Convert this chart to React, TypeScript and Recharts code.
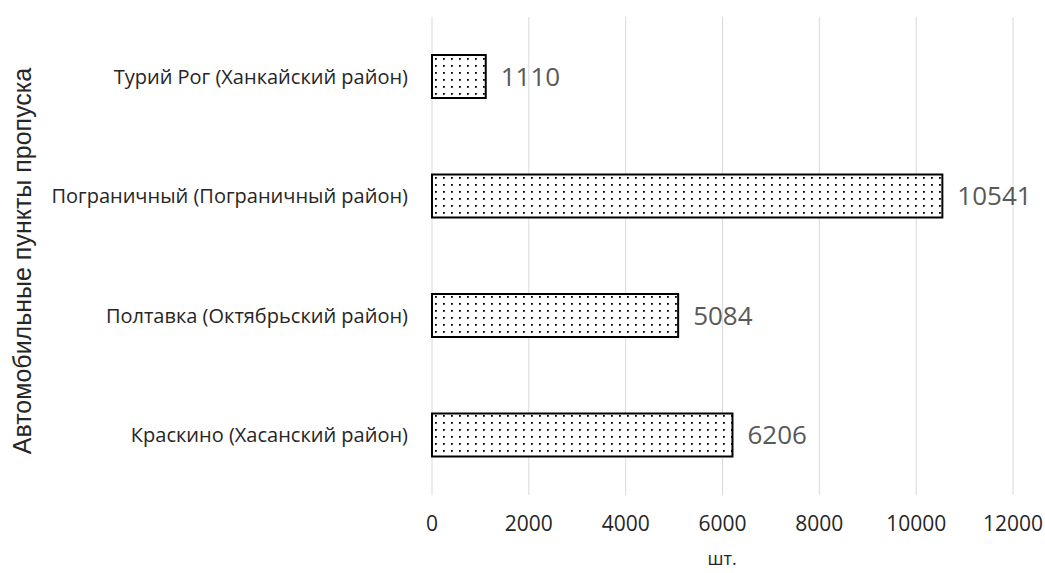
import { Bar, BarChart, CartesianGrid, LabelList, XAxis, YAxis } from 'recharts';

const checkpoints = [
  'Турий Рог (Ханкайский район)',
  'Пограничный (Пограничный район)',
  'Полтавка (Октябрьский район)',
  'Краскино (Хасанский район)',
];
const vehicles = [1110, 10541, 5084, 6206];
const xTicks = [0, 2000, 4000, 6000, 8000, 10000, 12000];

const data = checkpoints.map((name, i) => ({ name, value: vehicles[i] }));

const FONT = "'Open Sans', Lato, sans-serif";

const YTitle = ({ viewBox }: any) => {
  const cy = viewBox.y + viewBox.height / 2 + 5;
  return (
    <text
      x={22}
      y={cy}
      transform={`rotate(-90, 22, ${cy})`}
      textAnchor="middle"
      dominantBaseline="central"
      fontFamily="'Liberation Sans', Arial, sans-serif"
      fontSize={25}
      fill="#262626"
    >
      Автомобильные пункты пропуска
    </text>
  );
};

const XTitle = () => (
  <text
    x={722}
    y={558}
    textAnchor="middle"
    dominantBaseline="central"
    fontFamily={FONT}
    fontSize={18}
    fill="#262626"
  >
    шт.
  </text>
);

export default function App() {
  return (
    <div style={{ position: 'fixed', left: 0, top: 0, background: '#fff' }}>
      <BarChart
        width={1045}
        height={573}
        data={data}
        layout="vertical"
        margin={{ top: 17, right: 32, bottom: 48, left: 0 }}
      >
        <defs>
          <pattern id="dots" width={8} height={7} patternUnits="userSpaceOnUse">
            <rect width={8} height={7} fill="#fff" />
            <rect x={3} y={2} width={1.8} height={1.8} fill="#000" />
          </pattern>
        </defs>
        <CartesianGrid horizontal={false} stroke="#d9d9d9" />
        <XAxis
          type="number"
          domain={[0, 12000]}
          ticks={xTicks}
          axisLine={false}
          tickLine={false}
          tickMargin={15}
          tick={{ fontFamily: FONT, fontSize: 21, fill: '#262626' }}
          label={<XTitle />}
        />
        <YAxis
          type="category"
          dataKey="name"
          width={432}
          axisLine={false}
          tickLine={false}
          tickMargin={18}
          tick={{ fontFamily: FONT, fontSize: 20, fill: '#262626' }}
          label={<YTitle />}
        />
        <Bar
          dataKey="value"
          barSize={43}
          fill="url(#dots)"
          stroke="#000"
          strokeWidth={2}
          isAnimationActive={false}
        >
          <LabelList
            dataKey="value"
            position="right"
            offset={15}
            fill="#595959"
            fontFamily={FONT}
            fontSize={26}
          />
        </Bar>
      </BarChart>
    </div>
  );
}
